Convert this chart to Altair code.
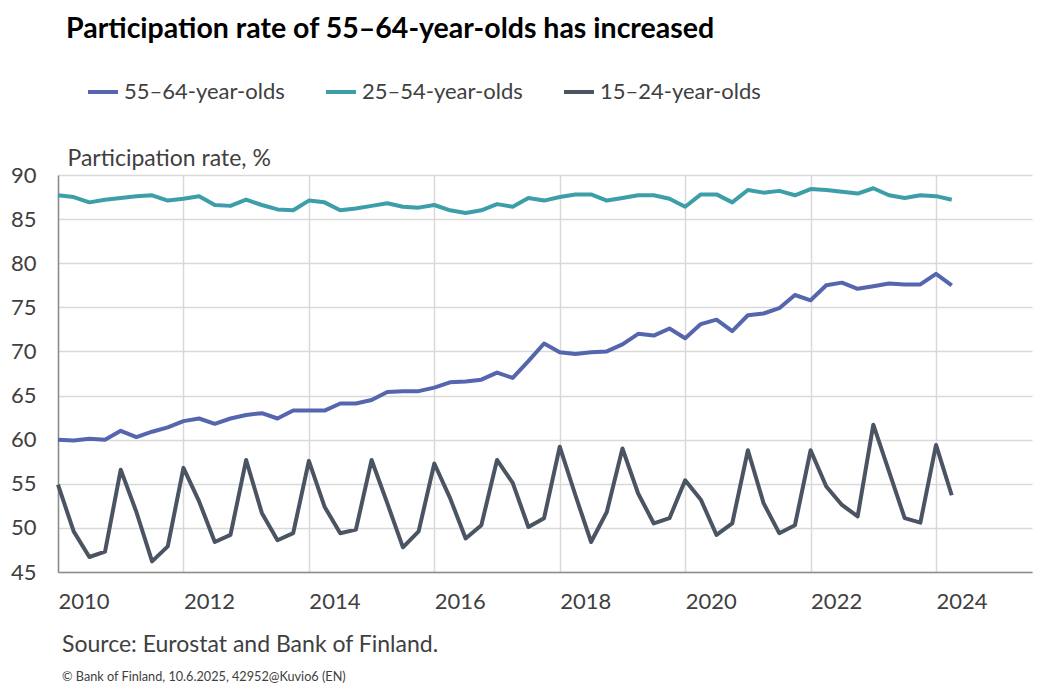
import altair as alt
import pandas as pd

# ---------------- data ----------------
YEARS = list(range(2010, 2025))
QUARTERS = [f"{y}Q{q}" for y in YEARS for q in (1, 2, 3, 4)][:58]  # 2010Q1 .. 2024Q2

SERIES = ["55–64-year-olds", "25–54-year-olds", "15–24-year-olds"]
COLORS = ["#5565AE", "#3C9EA8", "#4A5462"]

AGE_55_64 = [
    60.0, 59.9, 60.1, 60.0, 61.0, 60.3, 60.9, 61.4, 62.1, 62.4,
    61.8, 62.4, 62.8, 63.0, 62.4, 63.3, 63.3, 63.3, 64.1, 64.1,
    64.5, 65.4, 65.5, 65.5, 65.9, 66.5, 66.6, 66.8, 67.6, 67.0,
    68.9, 70.9, 69.9, 69.7, 69.9, 70.0, 70.8, 72.0, 71.8, 72.6,
    71.5, 73.1, 73.6, 72.3, 74.1, 74.3, 74.9, 76.4, 75.8, 77.5,
    77.8, 77.1, 77.4, 77.7, 77.6, 77.6, 78.8, 77.5,
]
AGE_25_54 = [
    87.7, 87.5, 86.9, 87.2, 87.4, 87.6, 87.7, 87.1, 87.3, 87.6,
    86.6, 86.5, 87.2, 86.6, 86.1, 86.0, 87.1, 86.9, 86.0, 86.2,
    86.5, 86.8, 86.4, 86.3, 86.6, 86.0, 85.7, 86.0, 86.7, 86.4,
    87.4, 87.1, 87.5, 87.8, 87.8, 87.1, 87.4, 87.7, 87.7, 87.3,
    86.4, 87.8, 87.8, 86.9, 88.3, 88.0, 88.2, 87.7, 88.4, 88.3,
    88.1, 87.9, 88.5, 87.7, 87.4, 87.7, 87.6, 87.2,
]
AGE_15_24 = [
    54.9, 49.6, 46.7, 47.3, 56.6, 51.8, 46.2, 47.9, 56.8, 53.0,
    48.4, 49.2, 57.7, 51.7, 48.6, 49.4, 57.6, 52.4, 49.4, 49.8,
    57.7, 52.8, 47.8, 49.6, 57.3, 53.4, 48.8, 50.3, 57.7, 55.1,
    50.1, 51.1, 59.2, 53.7, 48.4, 51.8, 59.0, 53.9, 50.5, 51.1,
    55.4, 53.2, 49.2, 50.5, 58.8, 52.8, 49.4, 50.3, 58.8, 54.7,
    52.6, 51.3, 61.7, 56.4, 51.1, 50.6, 59.4, 53.7,
]

X_TICKS = [2010, 2012, 2014, 2016, 2018, 2020, 2022, 2024]
Y_TICKS = [45, 50, 55, 60, 65, 70, 75, 80, 85, 90]

TITLE = "Participation rate of 55–64-year-olds has increased"
Y_TITLE = "Participation rate, %"
SOURCE = "Source: Eurostat and Bank of Finland."
FOOTER = "© Bank of Finland,  10.6.2025, 42952@Kuvio6 (EN)"

# ---------------- table ----------------
def qnum(q):
    return int(q[:4]) + (int(q[5]) - 1) / 4

rows = []
for name, vals in zip(SERIES, [AGE_55_64, AGE_25_54, AGE_15_24]):
    for q, v in zip(QUARTERS, vals):
        rows.append({"quarter": q, "t": qnum(q), "series": name, "value": v})
df = pd.DataFrame(rows)

FONT = "Lato"
TXT = "#404040"
GRID = "#d9d9d9"

lines = alt.Chart(df).mark_line(strokeWidth=4, strokeJoin="round").encode(
    x=alt.X(
        "t:Q",
        scale=alt.Scale(domain=[2010, 2025.53], nice=False, zero=False),
        axis=alt.Axis(
            values=X_TICKS, format="d", title=None, labelAlign="left",
            labelPadding=19, labelFontSize=22, labelFont=FONT, labelColor=TXT,
            labelFlush=False, ticks=False, grid=True, gridColor=GRID,
            gridWidth=1.5, domainColor="#8c8c8c", domainWidth=1.5,
        ),
    ),
    y=alt.Y(
        "value:Q",
        scale=alt.Scale(domain=[45, 90], nice=False, zero=False),
        axis=alt.Axis(
            values=Y_TICKS, title=Y_TITLE, titleAngle=0, titleAlign="left",
            titleBaseline="middle", titleX=9, titleY=-17, titleFontSize=23,
            titleFont=FONT, titleFontWeight="normal", titleColor=TXT,
            labelPadding=22, labelFontSize=22, labelFont=FONT, labelColor=TXT,
            ticks=False, grid=True, gridColor=GRID, gridWidth=1.5,
            domainColor="#8c8c8c", domainWidth=1.5,
        ),
    ),
    color=alt.Color(
        "series:N",
        scale=alt.Scale(domain=SERIES, range=COLORS),
        legend=alt.Legend(
            orient="none", legendX=28, legendY=-100, direction="horizontal",
            title=None, symbolType="stroke", symbolSize=900,
            symbolStrokeWidth=4, labelFontSize=22, labelFont=FONT,
            labelColor=TXT, labelOffset=4, labelLimit=0, columnPadding=33,
        ),
    ),
    order="t:Q",
)

def text_layer(s, x, y, size, weight="normal", color=TXT):
    return alt.Chart(pd.DataFrame({"label": [s]})).mark_text(
        align="left", baseline="middle", font=FONT, fontSize=size,
        fontWeight=weight, color=color,
    ).encode(x=alt.value(x), y=alt.value(y), text="label:N")

title = text_layer(TITLE, 8, -146, 28.5, "bold", "#000000")
source = text_layer(SOURCE, 4, 470, 23)
footer = text_layer(FOOTER, 4, 502, 12.7)

chart = alt.layer(lines, title, source, footer).properties(
    width=974,
    height=397,
    autosize=alt.AutoSizeParams(type="none"),
    padding={"left": 50, "top": 167, "right": 1, "bottom": 113},
).configure_view(stroke=None)

chart.save("out.html", embed_options={"renderer": "svg", "actions": False})
